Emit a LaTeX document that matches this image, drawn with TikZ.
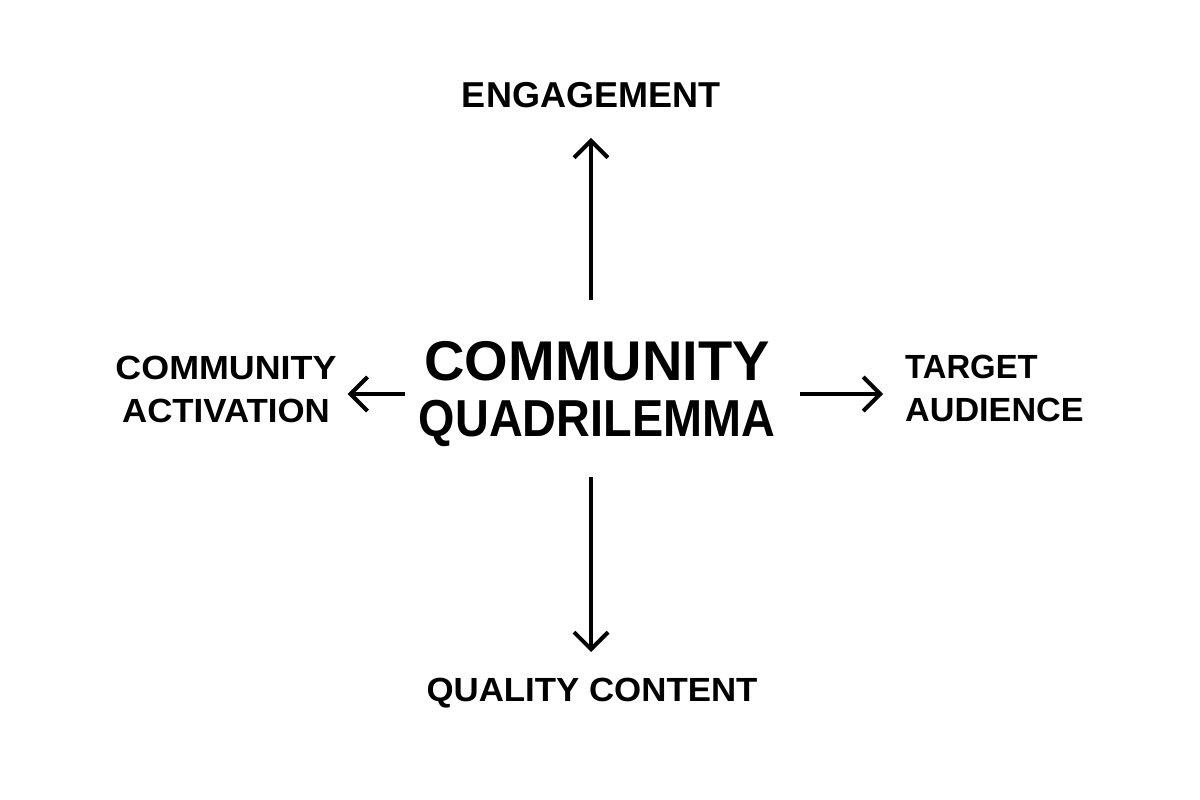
\documentclass[tikz,border=0pt]{standalone}
\usepackage{fontspec}
\usepackage{graphicx}
\setmainfont{Liberation Sans}
\usetikzlibrary{arrows.meta}
\newcommand{\hsq}[2]{\scalebox{#1}[1]{#2}}
\begin{document}
\begin{tikzpicture}[x=1pt,y=-1pt,
  side/.style={font=\bfseries\fontsize{33.5}{43}\selectfont, inner sep=0pt},
  arr/.style={line width=4pt, -{Straight Barb[length=17pt,width=34pt]}}]
\useasboundingbox[fill=white] (0,0) rectangle (1200,800);
\node[font=\bfseries\fontsize{36}{36}\selectfont, inner sep=0pt, anchor=north] (eng) at (591,82) {ENGAGEMENT};
\node[font=\bfseries\fontsize{56}{56}\selectfont, inner sep=0pt, align=center, anchor=north] (ctr) at (597,341)
  {COMMUNITY\\{\fontsize{52}{56}\selectfont\hsq{0.9}{QUADRILEMMA}}};
\node[side, align=center, anchor=north] (act) at (226,356) {\hsq{1.07}{COMMUNITY}\\\hsq{1.04}{ACTIVATION}};
\node[side, align=left, anchor=north west] (aud) at (905,355) {\hsq{0.98}{TARGET}\\\hsq{1.02}{AUDIENCE}};
\node[side, anchor=north] (qual) at (592,678) {\hsq{1.04}{QUALITY CONTENT}};
\coordinate (upbase) at (591,300);
\coordinate (downbase) at (591,477);
\coordinate (leftbase) at (405,394);
\coordinate (rightbase) at (800,394);
\draw[arr] (upbase) -- (upbase |- eng.south) [shorten >=30pt];
\draw[arr, shorten >=26pt] (downbase) -- (downbase |- qual.north);
\draw[arr, shorten >=11pt] (leftbase) -- (act.east |- leftbase);
\draw[arr, shorten >=22pt] (rightbase) -- (aud.west |- rightbase);
\end{tikzpicture}
\end{document}
